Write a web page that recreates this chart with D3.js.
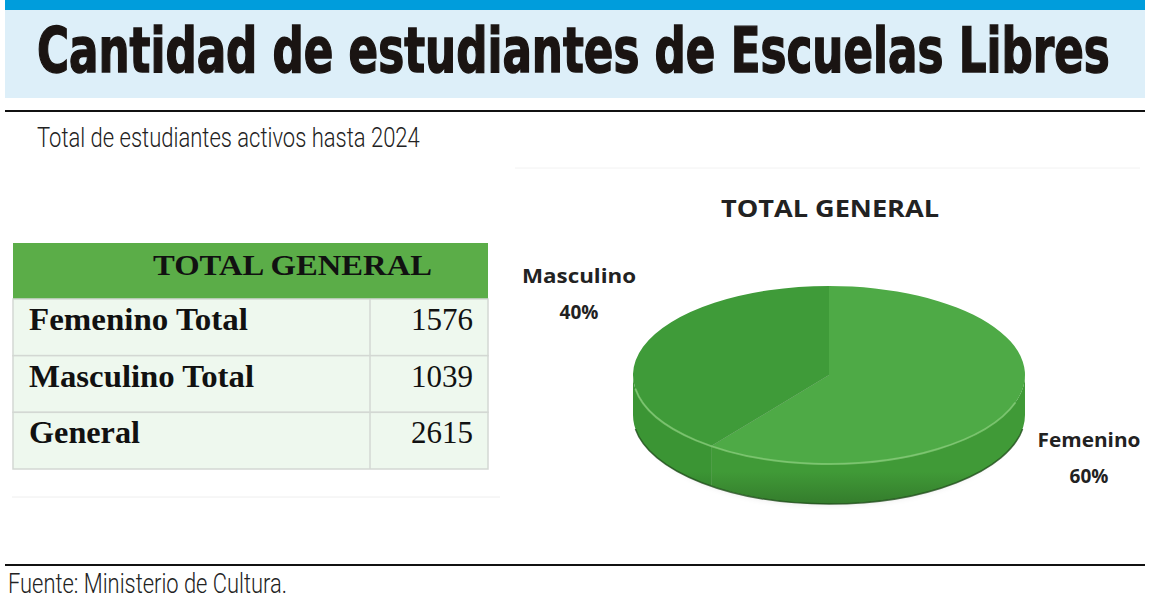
<!DOCTYPE html>
<html>
<head>
<meta charset="utf-8">
<script src="https://cdn.jsdelivr.net/npm/d3@7"></script>
<style>
  body { margin: 0; background: #fff; }
  svg { display: block; }
</style>
</head>
<body>
<div id="chart"></div>
<script>
// values
var categories = ["Femenino", "Masculino"];
var values = [1576, 1039];
var pctLabels = ["60%", "40%"];
var rowLabels = ["Femenino Total", "Masculino Total", "General"];
var rowTotals = [1576, 1039, 2615];

var width = 1158, height = 612;

var svg = d3.select("#chart").append("svg")
	.attr("width", width)
	.attr("height", height);

// squeeze a text into a box (x, baseline, width, cap height)
function fitText(sel, x, y, w, cap, capRatio) {
	var fs = +sel.attr("font-size");
	var nat = sel.node().getComputedTextLength();
	sel.attr("transform", "translate(" + x + "," + y + ") scale(" + (w / nat) + "," + (cap / (fs * capRatio)) + ")");
}

// header band
svg.append("rect").attr("x", 5).attr("y", 0).attr("width", 1140).attr("height", 98).attr("fill", "#ddeff9");
svg.append("rect").attr("x", 5).attr("y", 0).attr("width", 1140).attr("height", 10).attr("fill", "#009ddc");
var title = svg.append("text")
	.attr("font-family", "'DejaVu Sans Condensed', 'DejaVu Sans', sans-serif")
	.attr("font-weight", "bold").attr("font-size", 40).attr("fill", "#1a1412")
	.attr("stroke", "#1a1412").attr("stroke-width", 0.9)
	.text("Cantidad de estudiantes de Escuelas Libres");
fitText(title, 37, 72, 1073, 45, 0.73);

svg.append("rect").attr("x", 5).attr("y", 110).attr("width", 1140).attr("height", 2).attr("fill", "#111");
var sub = svg.append("text")
	.attr("font-family", "Roboto, sans-serif").attr("font-weight", 300)
	.attr("font-size", 24).attr("fill", "#222")
	.text("Total de estudiantes activos hasta 2024");
fitText(sub, 37, 147, 383, 20, 0.71);

// faint separators of the original scan
svg.append("line").attr("x1", 515).attr("x2", 1140).attr("y1", 168).attr("y2", 168).attr("stroke", "#f2f2f2");
svg.append("line").attr("x1", 12).attr("x2", 500).attr("y1", 497).attr("y2", 497).attr("stroke", "#eeeeee");

// table
var tx = 13, tw = 475, colX = 370, headY = 243, headH = 56;
var rowY = d3.scaleBand().domain(rowLabels).range([headY + headH, 469]);

svg.append("rect").attr("x", tx).attr("y", headY).attr("width", tw).attr("height", headH).attr("fill", "#5bad48");
svg.append("text").attr("x", 153).attr("y", 275)
	.attr("font-family", "'Liberation Serif', serif").attr("font-weight", "bold")
	.attr("font-size", 30).attr("fill", "#111")
	.attr("textLength", 279).attr("lengthAdjust", "spacingAndGlyphs")
	.text("TOTAL GENERAL");

var labelWidths = [219, 225, 111];
var rows = svg.selectAll("g.row").data(rowLabels).enter().append("g").attr("class", "row");
rows.append("rect").attr("x", tx).attr("y", function (d) { return rowY(d); })
	.attr("width", tw).attr("height", rowY.bandwidth())
	.attr("fill", "#eef8ee").attr("stroke", "#d3d8d3").attr("stroke-width", 1.5);
rows.append("line").attr("x1", colX).attr("x2", colX)
	.attr("y1", function (d) { return rowY(d); })
	.attr("y2", function (d) { return rowY(d) + rowY.bandwidth(); })
	.attr("stroke", "#d3d8d3").attr("stroke-width", 1.5);
rows.append("text").attr("x", 29).attr("y", function (d) { return rowY(d) + 31; })
	.attr("font-family", "'Liberation Serif', serif").attr("font-weight", "bold")
	.attr("font-size", 32).attr("fill", "#111")
	.attr("textLength", function (d, i) { return labelWidths[i]; }).attr("lengthAdjust", "spacingAndGlyphs")
	.text(function (d) { return d; });
rows.append("text").attr("x", 473).attr("y", function (d) { return rowY(d) + 31; })
	.attr("text-anchor", "end")
	.attr("font-family", "'Liberation Serif', serif")
	.attr("font-size", 31).attr("fill", "#111")
	.text(function (d, i) { return rowTotals[i]; });

// pie
svg.append("text").attr("x", 830).attr("y", 217).attr("text-anchor", "middle")
	.attr("font-family", "'Open Sans', sans-serif").attr("font-weight", "bold")
	.attr("font-size", 24).attr("fill", "#222")
	.attr("textLength", 218).attr("lengthAdjust", "spacingAndGlyphs")
	.text("TOTAL GENERAL");

var cx = 829, cy = 375, rx = 196, ry = 89, depth = 40;
var topColors = ["#4eaa46", "#3f9b39"];
var sideColors = ["#409a37", "#3b9534"];

var defs = svg.append("defs");
var blur = defs.append("filter").attr("id", "shadow").attr("x", "-20%").attr("y", "-50%").attr("width", "140%").attr("height", "200%");
blur.append("feGaussianBlur").attr("stdDeviation", 5);

sideColors.forEach(function (c, i) {
	var g = defs.append("linearGradient").attr("id", "side" + i)
		.attr("gradientUnits", "userSpaceOnUse")
		.attr("x1", 0).attr("x2", 0).attr("y1", cy).attr("y2", cy + ry + depth);
	g.append("stop").attr("offset", "0%").attr("stop-color", c);
	g.append("stop").attr("offset", "75%").attr("stop-color", c);
	g.append("stop").attr("offset", "100%").attr("stop-color", d3.color(c).darker(0.6));
});

var pie = d3.pie().sort(null);
var arcs = pie(values);

function pt(a, dy) {
	return [cx + rx * Math.sin(a), cy - ry * Math.cos(a) + (dy || 0)];
}

function topPath(a0, a1) {
	var p0 = pt(a0), p1 = pt(a1);
	var large = (a1 - a0) > Math.PI ? 1 : 0;
	return "M" + cx + "," + cy + "L" + p0 + "A" + rx + "," + ry + " 0 " + large + " 1 " + p1 + "Z";
}

function sidePath(a0, a1) {
	var s0 = Math.max(a0, Math.PI / 2), s1 = Math.min(a1, 3 * Math.PI / 2);
	if (s1 <= s0) return null;
	var p0 = pt(s0), p1 = pt(s1), q0 = pt(s0, depth), q1 = pt(s1, depth);
	return "M" + p0 + "A" + rx + "," + ry + " 0 0 1 " + p1 + "L" + q1 +
		"A" + rx + "," + ry + " 0 0 0 " + q0 + "Z";
}

svg.append("ellipse").attr("cx", cx).attr("cy", cy + depth + 6).attr("rx", rx - 14).attr("ry", ry * 0.9)
	.attr("fill", "#000").attr("opacity", 0.25).attr("filter", "url(#shadow)");

svg.selectAll("path.side").data(arcs).enter().append("path").attr("class", "side")
	.attr("d", function (d) { return sidePath(d.startAngle, d.endAngle); })
	.attr("fill", function (d, i) { return "url(#side" + i + ")"; });

// dark lower edge of the disc
svg.append("path")
	.attr("d", "M" + pt(Math.PI * 0.55, depth) + "A" + rx + "," + ry + " 0 0 1 " + pt(Math.PI * 1.45, depth))
	.attr("fill", "none").attr("stroke", "#1f4d1a").attr("stroke-width", 1.5).attr("opacity", 0.8);

svg.selectAll("path.top").data(arcs).enter().append("path").attr("class", "top")
	.attr("d", function (d) { return topPath(d.startAngle, d.endAngle); })
	.attr("fill", function (d, i) { return topColors[i]; });

// rim highlight along the front edge
svg.append("path")
	.attr("d", "M" + pt(Math.PI * 0.6) + "A" + rx + "," + ry + " 0 0 1 " + pt(Math.PI * 1.45))
	.attr("fill", "none").attr("stroke", "#86cc78").attr("stroke-width", 2).attr("opacity", 0.75);

// labels
var labelPos = [[1089, 440], [579, 276]];
var labels = svg.selectAll("g.lab").data(arcs).enter().append("g").attr("class", "lab")
	.attr("transform", function (d, i) { return "translate(" + labelPos[i] + ")"; });
labels.append("text").attr("text-anchor", "middle").attr("y", 7)
	.attr("font-family", "'Open Sans', sans-serif").attr("font-weight", "bold")
	.attr("font-size", 19).attr("fill", "#222")
	.attr("textLength", function (d, i) { return i === 0 ? 103 : 114; }).attr("lengthAdjust", "spacingAndGlyphs")
	.text(function (d, i) { return categories[i]; });
labels.append("text").attr("text-anchor", "middle").attr("y", 43)
	.attr("font-family", "'Open Sans', sans-serif").attr("font-weight", "bold")
	.attr("font-size", 19).attr("fill", "#222")
	.text(function (d, i) { return pctLabels[i]; });

// footer
svg.append("rect").attr("x", 5).attr("y", 564).attr("width", 1140).attr("height", 2).attr("fill", "#111");
var foot = svg.append("text")
	.attr("font-family", "Roboto, sans-serif").attr("font-weight", 300)
	.attr("font-size", 24).attr("fill", "#222")
	.text("Fuente: Ministerio de Cultura.");
fitText(foot, 8, 593, 279, 20, 0.71);
</script>
</body>
</html>
